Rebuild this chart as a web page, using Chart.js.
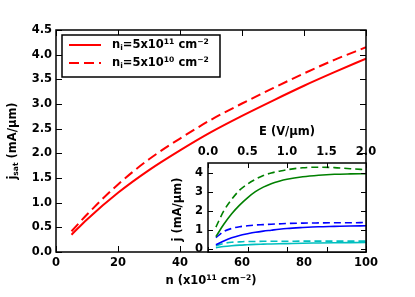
<!DOCTYPE html>
<html>
<head>
<meta charset="utf-8">
<script src="https://cdn.jsdelivr.net/npm/chart.js@4/dist/chart.umd.min.js"></script>
<style>
  html, body { margin: 0; padding: 0; background: #fff; }
  #wrap { position: relative; width: 415px; height: 297px; }
  #wrap canvas { position: absolute; left: 0; top: 0; }
</style>
</head>
<body>
<div id="wrap">
  <canvas id="main" width="415" height="297"></canvas>
  <canvas id="inset" width="415" height="297"></canvas>
</div>
<script>
// Main plot: saturation current vs carrier density
const nVals = [5, 10, 20, 30, 40, 50, 60, 70, 80, 90, 100];
const jsatHigh = [0.35, 0.66, 1.20, 1.66, 2.06, 2.43, 2.76, 3.07, 3.37, 3.65, 3.92];
const jsatLow = [0.42, 0.76, 1.37, 1.88, 2.30, 2.68, 3.01, 3.32, 3.62, 3.90, 4.15];
const nTicks = [0, 20, 40, 60, 80, 100];
const jsatTicks = [0, 0.5, 1, 1.5, 2, 2.5, 3, 3.5, 4, 4.5];

// Inset: current vs field
const eVals = [0.1, 0.2, 0.3, 0.4, 0.5, 0.6, 0.7, 0.8, 0.9, 1.0, 1.2, 1.4, 1.6, 1.8, 2.0];
const greenSolid = [0.65, 1.30, 1.85, 2.30, 2.68, 3.00, 3.24, 3.42, 3.55, 3.65, 3.78, 3.86, 3.91, 3.93, 3.94];
const greenDashed = [1.15, 2.00, 2.60, 3.08, 3.40, 3.65, 3.85, 3.98, 4.07, 4.15, 4.25, 4.28, 4.26, 4.20, 4.15];
const blueSolid = [0.23, 0.43, 0.59, 0.71, 0.80, 0.88, 0.94, 0.99, 1.04, 1.08, 1.13, 1.17, 1.19, 1.21, 1.22];
const blueDashed = [0.60, 0.92, 1.08, 1.17, 1.22, 1.26, 1.28, 1.30, 1.32, 1.34, 1.36, 1.37, 1.38, 1.38, 1.39];
const cyanSolid = [0.08, 0.14, 0.18, 0.21, 0.23, 0.25, 0.26, 0.27, 0.28, 0.29, 0.31, 0.32, 0.33, 0.34, 0.35];
const cyanDashed = [0.18, 0.30, 0.36, 0.38, 0.40, 0.40, 0.41, 0.41, 0.41, 0.41, 0.42, 0.42, 0.42, 0.42, 0.42];
const eTicks = [0, 0.5, 1, 1.5, 2];
const jTicks = [0, 1, 2, 3, 4];

const legendLabels = [
    [['n', ''], ['i', 'sub'], ['=5x10', ''], ['11', 'sup'], [' cm', ''], ['\u22122', 'sup']],
    [['n', ''], ['i', 'sub'], ['=5x10', ''], ['10', 'sup'], [' cm', ''], ['\u22122', 'sup']]
];

const FONT = 'DejaVu Sans';
const FS = 11.5;
Chart.defaults.font.family = FONT;
Chart.defaults.font.weight = 'bold';
Chart.defaults.font.size = FS;
Chart.defaults.color = '#000';

function pts(xs, ys) {
    return xs.map((x, i) => ({ x: x, y: ys[i] }));
}

// draw text made of normal / sub / sup pieces
function drawRich(ctx, segs, x, y, size, align) {
    const small = size * 0.66;
    let total = 0;
    const widths = segs.map(s => {
        ctx.font = 'bold ' + (s[1] ? small : size) + 'px "' + FONT + '"';
        const w = ctx.measureText(s[0]).width;
        total += w;
        return w;
    });
    let cx = align === 'center' ? x - total / 2 : x;
    ctx.textAlign = 'left';
    ctx.textBaseline = 'middle';
    ctx.fillStyle = '#000';
    segs.forEach((s, i) => {
        ctx.font = 'bold ' + (s[1] ? small : size) + 'px "' + FONT + '"';
        let dy = 0;
        if (s[1] === 'sub') dy = size * 0.28;
        if (s[1] === 'sup') dy = -size * 0.3;
        ctx.fillText(s[0], cx, y + dy);
        cx += widths[i];
    });
}

function drawRotated(ctx, segs, x, y, size) {
    ctx.save();
    ctx.translate(x, y);
    ctx.rotate(-Math.PI / 2);
    drawRich(ctx, segs, 0, 0, size, 'center');
    ctx.restore();
}

// inward ticks on all four sides plus the box
const framePlugin = {
    id: 'frame',
    afterDraw(chart) {
        const ctx = chart.ctx;
        const a = chart.chartArea;
        const tl = chart.options.tickLen || 6;
        ctx.save();
        ctx.strokeStyle = '#000';
        ctx.lineWidth = 1;
        ctx.beginPath();
        chart.scales.x.ticks.forEach(t => {
            const px = Math.round(chart.scales.x.getPixelForValue(t.value)) + 0.5;
            ctx.moveTo(px, a.bottom); ctx.lineTo(px, a.bottom - tl);
            ctx.moveTo(px, a.top); ctx.lineTo(px, a.top + tl);
        });
        chart.scales.y.ticks.forEach(t => {
            const py = Math.round(chart.scales.y.getPixelForValue(t.value)) + 0.5;
            ctx.moveTo(a.left, py); ctx.lineTo(a.left + tl, py);
            ctx.moveTo(a.right, py); ctx.lineTo(a.right - tl, py);
        });
        ctx.stroke();
        ctx.lineWidth = 1.5;
        ctx.strokeRect(a.left, a.top, a.right - a.left, a.bottom - a.top);
        ctx.restore();
    }
};

const mainText = {
    id: 'mainText',
    afterDraw(chart) {
        const ctx = chart.ctx;
        const a = chart.chartArea;
        drawRich(ctx, [['n (x10', ''], ['11', 'sup'], [' cm', ''], ['\u22122', 'sup'], [')', '']],
            (a.left + a.right) / 2, 281, FS, 'center');
        drawRotated(ctx, [['j', ''], ['sat', 'sub'], [' (mA/\u03bcm)', '']], 13, (a.top + a.bottom) / 2, FS);

        // legend box
        const lx = 62, ly = 35, lw = 158, lh = 42;
        ctx.save();
        ctx.fillStyle = '#fff';
        ctx.fillRect(lx, ly, lw, lh);
        ctx.strokeStyle = '#000';
        ctx.lineWidth = 1.5;
        ctx.strokeRect(lx, ly, lw, lh);
        chart.data.datasets.forEach((ds, i) => {
            const yy = ly + 10 + i * 18;
            ctx.beginPath();
            ctx.strokeStyle = ds.borderColor;
            ctx.lineWidth = ds.borderWidth;
            ctx.setLineDash(ds.borderDash || []);
            ctx.moveTo(lx + 7, yy);
            ctx.lineTo(lx + 39, yy);
            ctx.stroke();
            ctx.setLineDash([]);
            drawRich(ctx, legendLabels[i], lx + 50, yy, FS, 'left');
        });
        ctx.restore();
    }
};

const insetText = {
    id: 'insetText',
    beforeDraw(chart) {
        const a = chart.chartArea;
        chart.ctx.save();
        chart.ctx.fillStyle = '#fff';
        chart.ctx.fillRect(a.left, a.top, a.right - a.left, a.bottom - a.top);
        chart.ctx.restore();
    },
    afterDraw(chart) {
        const ctx = chart.ctx;
        const a = chart.chartArea;
        drawRich(ctx, [['E (V/\u03bcm)', '']], (a.left + a.right) / 2, 132, FS, 'center');
        drawRotated(ctx, [['j (mA/\u03bcm)', '']], 178, (a.top + a.bottom) / 2 + 2, FS);
    }
};

function series(label, data, color, dashed, width, dash) {
    return {
        label: label,
        data: data,
        borderColor: color,
        borderWidth: width,
        borderDash: dashed ? dash : [],
        pointRadius: 0,
        fill: false,
        cubicInterpolationMode: 'monotone'
    };
}

new Chart(document.getElementById('main'), {
    type: 'line',
    data: {
        datasets: [
            series('ni=5x10^11 cm^-2', pts(nVals, jsatHigh), '#ff0000', false, 2, []),
            series('ni=5x10^10 cm^-2', pts(nVals, jsatLow), '#ff0000', true, 2, [10, 5])
        ]
    },
    options: {
        responsive: false,
        animation: false,
        devicePixelRatio: 1,
        tickLen: 6,
        layout: { padding: { left: 0, right: 49, top: 30, bottom: 0 } },
        plugins: { legend: { display: false }, tooltip: { enabled: false } },
        scales: {
            x: {
                type: 'linear', min: 0, max: 100,
                afterBuildTicks: s => { s.ticks = nTicks.map(v => ({ value: v })); },
                afterFit: s => { s.height = 45; },
                grid: { display: false, drawTicks: false },
                border: { display: false },
                ticks: { padding: 4, maxRotation: 0, callback: v => String(v) }
            },
            y: {
                type: 'linear', min: 0, max: 4.5,
                afterBuildTicks: s => { s.ticks = jsatTicks.map(v => ({ value: v })); },
                afterFit: s => { s.width = 56; },
                grid: { display: false, drawTicks: false },
                border: { display: false },
                ticks: { padding: 4, callback: v => v.toFixed(1) }
            }
        }
    },
    plugins: [framePlugin, mainText]
});

new Chart(document.getElementById('inset'), {
    type: 'line',
    data: {
        datasets: [
            series('green solid', pts(eVals, greenSolid), '#008000', false, 1.6, []),
            series('green dashed', pts(eVals, greenDashed), '#008000', true, 1.6, [7, 4]),
            series('blue solid', pts(eVals, blueSolid), '#0000ff', false, 1.6, []),
            series('blue dashed', pts(eVals, blueDashed), '#0000ff', true, 1.6, [7, 4]),
            series('cyan solid', pts(eVals, cyanSolid), '#00bfbf', false, 1.6, []),
            series('cyan dashed', pts(eVals, cyanDashed), '#00bfbf', true, 1.6, [7, 4])
        ]
    },
    options: {
        responsive: false,
        animation: false,
        devicePixelRatio: 1,
        tickLen: 5,
        layout: { padding: { left: 150, right: 49, top: 100, bottom: 45 } },
        plugins: { legend: { display: false }, tooltip: { enabled: false } },
        scales: {
            x: {
                type: 'linear', position: 'top', min: 0, max: 2,
                afterBuildTicks: s => { s.ticks = eTicks.map(v => ({ value: v })); },
                afterFit: s => { s.height = 63; },
                grid: { display: false, drawTicks: false },
                border: { display: false },
                ticks: { padding: 4, maxRotation: 0, callback: v => v.toFixed(1) }
            },
            y: {
                type: 'linear', min: -0.15, max: 4.5,
                afterBuildTicks: s => { s.ticks = jTicks.map(v => ({ value: v })); },
                afterFit: s => { s.width = 58; },
                grid: { display: false, drawTicks: false },
                border: { display: false },
                ticks: { padding: 5, callback: v => String(v) }
            }
        }
    },
    plugins: [framePlugin, insetText]
});
</script>
</body>
</html>
